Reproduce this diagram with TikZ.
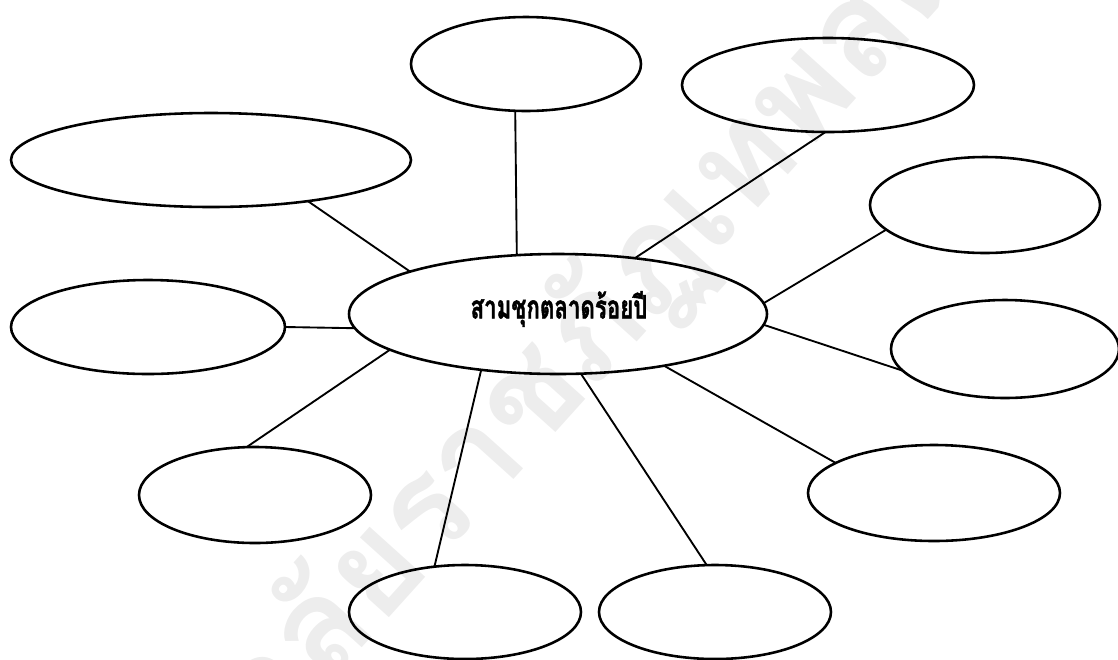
\documentclass[tikz,border=0pt]{standalone}
\usepackage{fontspec}
\newfontfamily\thaifont[Script=Thai]{Loma}
\newfontfamily\thaiheavy[Script=Thai, FakeBold=1.6]{Loma Bold}
\usetikzlibrary{shapes.geometric}
\tikzset{
  bubble/.style={ellipse, draw=black, line width=2.2pt, inner sep=0pt, outer sep=0pt, fill=none},
  link/.style={draw=black, line width=1.6pt},
}
\begin{document}
\begin{tikzpicture}[x=0.03cm, y=-0.03cm]
\useasboundingbox (0,0) rectangle (1118,659);
\begin{scope}
\clip (0,0) rectangle (1118,659);
\node[rotate=48, text=gray!14, font=\thaifont\bfseries\fontsize{115}{125}\selectfont] (wm) at (452,484) {มหาวิทยาลัยราชภัฏเทพสตรี};
\node[bubble, minimum width=418*0.03cm, minimum height=120*0.03cm] (c) at (558,314) {};
\node[font=\thaiheavy\fontsize{25}{29}\selectfont, inner sep=0pt] (ct) at (559,309) {\scalebox{0.76}[1.1]{สามชุกตลาดร้อยปี}};
\node[bubble, minimum width=230*0.03cm, minimum height=94*0.03cm] (t) at (526,64) {};
\node[bubble, minimum width=292*0.03cm, minimum height=94*0.03cm] (tr) at (828,85) {};
\node[bubble, minimum width=400*0.03cm, minimum height=94*0.03cm] (ul) at (211,160) {};
\node[bubble, minimum width=230*0.03cm, minimum height=96*0.03cm] (ru) at (985,205) {};
\node[bubble, minimum width=228*0.03cm, minimum height=98*0.03cm] (rm) at (1005,349) {};
\node[bubble, minimum width=274*0.03cm, minimum height=94*0.03cm] (lm) at (148,327) {};
\node[bubble, minimum width=232*0.03cm, minimum height=96*0.03cm] (ll) at (255,495) {};
\node[bubble, minimum width=252*0.03cm, minimum height=96*0.03cm] (lr) at (934,493) {};
\node[bubble, minimum width=232*0.03cm, minimum height=94*0.03cm] (bl) at (465,612) {};
\node[bubble, minimum width=232*0.03cm, minimum height=94*0.03cm] (br) at (715,612) {};
\draw[link] (c.125.6) -- (t.-103.4);
\draw[link] (c.36.2) -- (tr.-93.7);
\draw[link] (c.164) -- (ul.-23.4);
\draw[link] (c.3.9) -- (ru.-166.1);
\draw[link] (c.-3.3) -- (rm.-168.7);
\draw[link] (c.-176.7) -- (lm.0.3);
\draw[link] (c.-168.3) -- (ll.100.4);
\draw[link] (c.-26.4) -- (lr.163.3);
\draw[link] (c.-144.5) -- (bl.124.2);
\draw[link] (c.-69) -- (br.100.8);
\end{scope}
\end{tikzpicture}
\end{document}
